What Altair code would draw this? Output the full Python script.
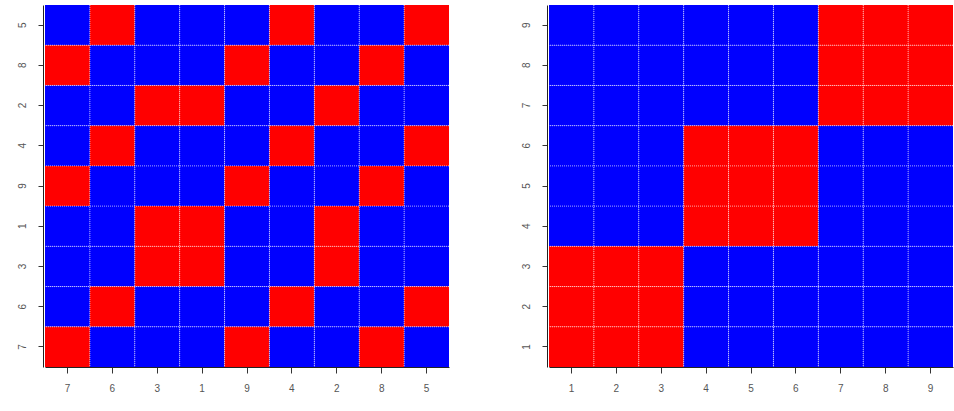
import altair as alt
import pandas as pd

# Left panel (reordered)
left_rows = ["5", "8", "2", "4", "9", "1", "3", "6", "7"]
left_cols = ["7", "6", "3", "1", "9", "4", "2", "8", "5"]
left_matrix = [
    [0, 1, 0, 0, 0, 1, 0, 0, 1],
    [1, 0, 0, 0, 1, 0, 0, 1, 0],
    [0, 0, 1, 1, 0, 0, 1, 0, 0],
    [0, 1, 0, 0, 0, 1, 0, 0, 1],
    [1, 0, 0, 0, 1, 0, 0, 1, 0],
    [0, 0, 1, 1, 0, 0, 1, 0, 0],
    [0, 0, 1, 1, 0, 0, 1, 0, 0],
    [0, 1, 0, 0, 0, 1, 0, 0, 1],
    [1, 0, 0, 0, 1, 0, 0, 1, 0],
]

# Right panel (block ordered)
right_rows = ["9", "8", "7", "6", "5", "4", "3", "2", "1"]
right_cols = ["1", "2", "3", "4", "5", "6", "7", "8", "9"]
right_matrix = [
    [0, 0, 0, 0, 0, 0, 1, 1, 1],
    [0, 0, 0, 0, 0, 0, 1, 1, 1],
    [0, 0, 0, 0, 0, 0, 1, 1, 1],
    [0, 0, 0, 1, 1, 1, 0, 0, 0],
    [0, 0, 0, 1, 1, 1, 0, 0, 0],
    [0, 0, 0, 1, 1, 1, 0, 0, 0],
    [1, 1, 1, 0, 0, 0, 0, 0, 0],
    [1, 1, 1, 0, 0, 0, 0, 0, 0],
    [1, 1, 1, 0, 0, 0, 0, 0, 0],
]

W, H = 404, 362


def panel(rows, cols, matrix):
    recs = []
    for i, r in enumerate(rows):
        for j, c in enumerate(cols):
            recs.append({"row": r, "col": c, "v": matrix[i][j]})
    df = pd.DataFrame(recs)

    xscale = alt.Scale(domain=cols, paddingInner=0, paddingOuter=0)
    yscale = alt.Scale(domain=rows, paddingInner=0, paddingOuter=0)

    xaxis = alt.Axis(title=None, labelAngle=0, grid=False, tickSize=6, tickColor="#333",
                     domainColor="#222", labelColor="#555", labelFontSize=10,
                     labelFont="Liberation Sans", labelPadding=10, offset=0)
    yaxis = alt.Axis(title=None, labelAngle=270, grid=False, tickSize=5, tickColor="#333",
                     domainColor="#222", labelColor="#555", labelFontSize=10,
                     labelFont="Liberation Sans", labelPadding=11, offset=2)

    cells = alt.Chart(df).mark_rect(stroke=None).encode(
        x=alt.X("col:N", scale=xscale, axis=xaxis, sort=cols),
        y=alt.Y("row:N", scale=yscale, axis=yaxis, sort=rows),
        color=alt.Color("v:N", scale=alt.Scale(domain=[0, 1], range=["#0000FF", "#FF0000"]), legend=None),
    )

    vdf = pd.DataFrame({"col": cols[1:]})
    hdf = pd.DataFrame({"row": rows[1:]})
    vlines = alt.Chart(vdf).mark_rule(color="white", strokeDash=[1, 1], strokeWidth=1, opacity=0.65).encode(
        x=alt.X("col:N", scale=xscale, sort=cols, bandPosition=0, axis=xaxis)
    )
    hlines = alt.Chart(hdf).mark_rule(color="white", strokeDash=[1, 1], strokeWidth=1, opacity=0.65).encode(
        y=alt.Y("row:N", scale=yscale, sort=rows, bandPosition=0, axis=yaxis)
    )
    return alt.layer(cells, vlines, hlines).properties(width=W, height=H)


left = panel(left_rows, left_cols, left_matrix)
right = panel(right_rows, right_cols, right_matrix)

chart = alt.hconcat(left, right, spacing=71).properties(
    padding={"left": 17, "top": 4, "right": 0, "bottom": 0}
).configure_view(stroke=None)

chart.save("out.html", embed_options={"renderer": "svg", "actions": False})
